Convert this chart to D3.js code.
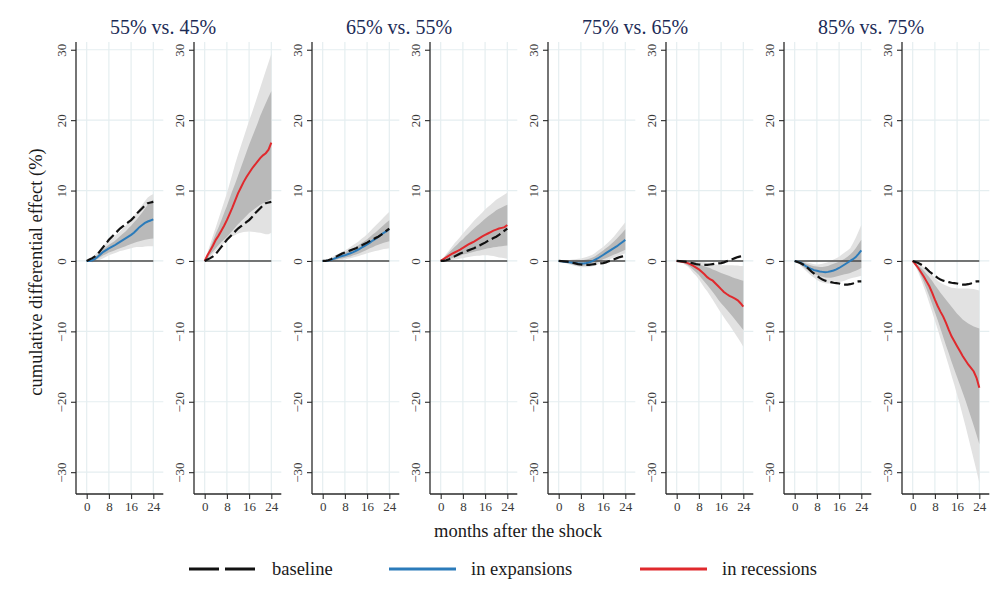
<!DOCTYPE html>
<html>
<head>
<meta charset="utf-8">
<script src="https://cdn.jsdelivr.net/npm/d3@7"></script>
<style>
  html, body { margin: 0; padding: 0; background: #fff; }
  svg { display: block; font-family: "Liberation Serif", "Times New Roman", serif; }
</style>
</head>
<body>
<svg id="chart" width="1005" height="604"></svg>
<script>
// Months after the shock
const months = d3.range(0, 25);
const xTicks = [0, 8, 16, 24];
const yTicks = [-30, -20, -10, 0, 10, 20, 30];
const groupTitles = ["55% vs. 45%", "65% vs. 55%", "75% vs. 65%", "85% vs. 75%"];

// ---- 55% vs. 45% ----
const base1 = [0,0.2,0.4,0.65,1.0,1.5,2.0,2.5,3.0,3.4,3.8,4.2,4.6,4.9,5.2,5.5,5.8,6.2,6.7,7.1,7.5,7.9,8.2,8.3,8.4];
const exp1 = [0,0,0.1,0.3,0.6,0.95,1.3,1.55,1.8,2.0,2.2,2.45,2.7,2.95,3.2,3.45,3.7,4.0,4.4,4.8,5.1,5.4,5.6,5.75,5.9];
const exp1InLo = [0,-0.05,-0.05,0.1,0.3,0.55,0.8,1.0,1.2,1.35,1.5,1.65,1.8,1.95,2.1,2.25,2.4,2.55,2.7,2.8,2.9,3.0,3.1,3.15,3.2];
const exp1InHi = [0,0.1,0.3,0.6,0.9,1.3,1.7,2.0,2.3,2.55,2.8,3.15,3.5,3.85,4.2,4.6,5.0,5.45,5.9,6.4,6.9,7.45,8.0,8.4,8.7];
const exp1OutLo = [0,-0.1,-0.2,-0.1,0.0,0.2,0.4,0.6,0.8,0.95,1.1,1.25,1.4,1.5,1.6,1.7,1.8,1.9,2.0,2.0,2.0,2.05,2.1,2.1,2.1];
const exp1OutHi = [0,0.25,0.5,0.9,1.3,1.75,2.2,2.55,2.9,3.2,3.5,3.85,4.2,4.6,5.0,5.45,5.9,6.4,6.9,7.45,8.0,8.5,9.0,9.3,9.5];
const rec1 = [0,0.8,1.5,2.2,3.0,3.6,4.3,5.0,5.8,6.7,7.6,8.6,9.6,10.4,11.2,11.9,12.5,13.1,13.6,14.1,14.6,15.0,15.3,15.8,16.8];
const rec1InLo = [0,0.4,0.9,1.35,1.8,2.25,2.7,3.05,3.4,3.85,4.3,4.75,5.2,5.6,6.0,6.4,6.8,7.1,7.4,7.7,8.0,8.2,8.4,8.6,8.8];
const rec1InHi = [0,1.0,1.9,2.9,3.9,4.8,5.8,6.8,7.8,8.9,10.0,11.0,12.1,13.2,14.3,15.4,16.5,17.5,18.5,19.5,20.6,21.5,22.4,23.3,24.1];
const rec1OutLo = [0,0.3,0.6,1.0,1.4,1.8,2.2,2.55,2.9,3.2,3.5,3.7,3.9,4.0,4.1,4.15,4.2,4.15,4.1,4.05,4.0,3.9,3.8,3.8,4.0];
const rec1OutHi = [0,1.2,2.4,3.6,4.8,6.0,7.2,8.4,9.6,11.0,12.4,13.8,15.1,16.3,17.5,18.7,19.9,21.0,22.2,23.4,24.6,25.8,27.0,28.2,29.4];

// ---- 65% vs. 55% ----
const base2 = [0,0.02,0.1,0.25,0.45,0.65,0.85,1.05,1.2,1.35,1.5,1.65,1.8,2.0,2.2,2.4,2.6,2.85,3.05,3.25,3.45,3.7,4.0,4.3,4.6];
const exp2 = [0,0,0.05,0.15,0.3,0.45,0.6,0.7,0.8,0.95,1.1,1.25,1.45,1.65,1.9,2.1,2.35,2.6,2.9,3.15,3.4,3.7,4.0,4.25,4.5];
const exp2InLo = [0,-0.05,-0.05,0.0,0.1,0.2,0.3,0.35,0.45,0.55,0.65,0.8,0.9,1.05,1.25,1.4,1.6,1.8,1.95,2.15,2.3,2.45,2.6,2.7,2.8];
const exp2InHi = [0,0.05,0.15,0.3,0.5,0.7,0.9,1.05,1.2,1.4,1.6,1.8,2.0,2.25,2.55,2.8,3.1,3.4,3.75,4.05,4.4,4.75,5.1,5.45,5.8];
const exp2OutLo = [0,-0.1,-0.1,-0.1,-0.05,0.0,0.1,0.15,0.2,0.3,0.4,0.5,0.6,0.7,0.85,0.95,1.1,1.2,1.3,1.4,1.5,1.6,1.7,1.75,1.8];
const exp2OutHi = [0,0.1,0.25,0.45,0.7,0.9,1.1,1.3,1.5,1.75,2.0,2.25,2.5,2.8,3.15,3.45,3.8,4.2,4.6,5.0,5.4,5.8,6.2,6.6,7.0];
const rec2 = [0,0.25,0.5,0.75,1.0,1.2,1.4,1.6,1.85,2.1,2.35,2.55,2.75,3.0,3.25,3.5,3.7,3.9,4.1,4.3,4.45,4.6,4.7,4.8,5.1];
const rec2InLo = [0,0.1,0.2,0.3,0.4,0.5,0.65,0.75,0.9,1.0,1.1,1.2,1.3,1.4,1.5,1.6,1.7,1.8,1.85,1.95,2.0,2.05,2.1,2.15,2.2];
const rec2InHi = [0,0.4,0.8,1.2,1.6,2.0,2.35,2.75,3.1,3.5,3.85,4.25,4.6,4.95,5.3,5.65,6.0,6.3,6.6,6.9,7.2,7.4,7.6,7.8,8.0];
const rec2OutLo = [0,0.0,0.0,0.05,0.1,0.2,0.25,0.35,0.4,0.5,0.55,0.65,0.7,0.75,0.75,0.8,0.8,0.8,0.75,0.7,0.6,0.5,0.45,0.4,0.3];
const rec2OutHi = [0,0.5,1.0,1.5,2.0,2.5,2.95,3.4,3.9,4.35,4.8,5.25,5.7,6.1,6.5,6.9,7.3,7.65,8.0,8.35,8.7,8.95,9.2,9.45,9.7];

// ---- 75% vs. 65% ----
const base3 = [0,-0.02,-0.05,-0.1,-0.15,-0.25,-0.35,-0.45,-0.5,-0.55,-0.55,-0.55,-0.5,-0.45,-0.4,-0.35,-0.3,-0.2,-0.05,0.1,0.25,0.4,0.55,0.65,0.75];
const exp3 = [0,-0.05,-0.1,-0.15,-0.2,-0.25,-0.3,-0.35,-0.35,-0.35,-0.3,-0.2,-0.05,0.15,0.35,0.6,0.85,1.1,1.35,1.6,1.85,2.1,2.4,2.7,3.0];
const exp3InLo = [0,-0.1,-0.2,-0.3,-0.4,-0.5,-0.6,-0.65,-0.7,-0.7,-0.65,-0.6,-0.5,-0.35,-0.2,0.0,0.25,0.4,0.55,0.75,0.9,1.05,1.25,1.4,1.6];
const exp3InHi = [0,0.0,0.0,0.0,0.05,0.05,0.05,0.08,0.1,0.15,0.2,0.3,0.45,0.65,0.9,1.2,1.5,1.8,2.1,2.45,2.8,3.2,3.6,4.05,4.5];
const exp3OutLo = [0,-0.15,-0.25,-0.4,-0.5,-0.6,-0.7,-0.8,-0.9,-0.9,-0.9,-0.85,-0.8,-0.65,-0.5,-0.3,-0.1,0.05,0.2,0.35,0.5,0.65,0.8,0.95,1.1];
const exp3OutHi = [0,0.05,0.1,0.1,0.15,0.2,0.25,0.3,0.35,0.45,0.55,0.7,0.85,1.1,1.4,1.7,2.0,2.35,2.7,3.1,3.5,4.0,4.5,5.0,5.5];
const rec3 = [0,-0.05,-0.1,-0.2,-0.3,-0.5,-0.7,-0.95,-1.2,-1.55,-1.9,-2.3,-2.6,-2.8,-3.2,-3.6,-4.0,-4.4,-4.7,-4.95,-5.15,-5.35,-5.6,-6.0,-6.5];
const rec3InLo = [0,-0.1,-0.2,-0.4,-0.6,-0.9,-1.25,-1.6,-2.0,-2.5,-2.95,-3.4,-3.9,-4.4,-4.95,-5.5,-6.0,-6.45,-6.9,-7.35,-7.8,-8.3,-8.8,-9.3,-9.8];
const rec3InHi = [0,0.0,-0.05,-0.05,-0.1,-0.2,-0.3,-0.4,-0.5,-0.6,-0.75,-0.9,-1.0,-1.2,-1.35,-1.55,-1.7,-1.85,-2.0,-2.15,-2.3,-2.45,-2.55,-2.7,-2.8];
const rec3OutLo = [0,-0.15,-0.3,-0.55,-0.8,-1.2,-1.7,-2.1,-2.6,-3.2,-3.8,-4.3,-4.9,-5.5,-6.15,-6.8,-7.4,-8.0,-8.55,-9.1,-9.7,-10.3,-10.9,-11.5,-12.2];
const rec3OutHi = [0,0.05,0.05,0.05,0.05,0.0,0.0,-0.05,-0.1,-0.15,-0.2,-0.3,-0.4,-0.45,-0.5,-0.55,-0.6,-0.6,-0.6,-0.6,-0.6,-0.65,-0.65,-0.7,-0.7];

// ---- 85% vs. 75% ----
const base4 = [0,-0.15,-0.3,-0.5,-0.75,-1.1,-1.5,-1.8,-2.1,-2.4,-2.65,-2.8,-2.9,-3.0,-3.1,-3.15,-3.2,-3.3,-3.35,-3.35,-3.3,-3.2,-3.0,-2.9,-2.9];
const exp4 = [0,-0.1,-0.2,-0.45,-0.75,-0.95,-1.15,-1.3,-1.4,-1.5,-1.55,-1.6,-1.55,-1.45,-1.35,-1.2,-1.0,-0.75,-0.5,-0.25,0.0,0.25,0.55,1.0,1.5];
const exp4InLo = [0,-0.2,-0.45,-0.8,-1.1,-1.4,-1.65,-1.85,-2.0,-2.15,-2.25,-2.35,-2.4,-2.4,-2.3,-2.2,-2.1,-2.0,-1.9,-1.8,-1.7,-1.55,-1.4,-1.2,-1.0];
const exp4InHi = [0,0.0,-0.05,-0.2,-0.35,-0.5,-0.65,-0.75,-0.8,-0.85,-0.85,-0.8,-0.7,-0.55,-0.4,-0.25,-0.1,0.1,0.3,0.6,0.9,1.3,1.8,2.4,3.0];
const exp4OutLo = [0,-0.25,-0.6,-1.0,-1.4,-1.75,-2.1,-2.4,-2.7,-2.9,-3.05,-3.15,-3.2,-3.2,-3.15,-3.1,-3.0,-2.9,-2.8,-2.65,-2.5,-2.4,-2.3,-2.2,-2.1];
const exp4OutHi = [0,0.05,0.0,-0.05,-0.15,-0.25,-0.35,-0.45,-0.5,-0.45,-0.4,-0.3,-0.2,0.0,0.2,0.4,0.6,0.9,1.2,1.5,1.8,2.5,3.3,4.2,5.1];
const rec4 = [0,-0.5,-1.0,-1.6,-2.2,-2.9,-3.6,-4.5,-5.5,-6.4,-7.2,-7.9,-8.8,-9.8,-10.7,-11.4,-12.1,-12.8,-13.5,-14.1,-14.7,-15.2,-15.7,-16.6,-18.0];
const rec4InLo = [0,-0.6,-1.3,-2.1,-3.0,-4.0,-5.0,-6.1,-7.3,-8.4,-9.6,-10.8,-12.0,-13.1,-14.3,-15.4,-16.5,-17.6,-18.7,-19.8,-21.0,-22.2,-23.4,-24.7,-26.0];
const rec4InHi = [0,-0.3,-0.6,-1.0,-1.4,-1.85,-2.3,-2.8,-3.4,-3.95,-4.5,-5.0,-5.5,-6.0,-6.5,-7.0,-7.5,-7.9,-8.3,-8.6,-8.9,-9.1,-9.3,-9.45,-9.6];
const rec4OutLo = [0,-0.75,-1.6,-2.6,-3.7,-4.8,-6.0,-7.2,-8.5,-9.7,-11.0,-12.3,-13.6,-14.9,-16.3,-17.6,-19.0,-20.4,-21.9,-23.4,-25.0,-26.6,-28.2,-29.8,-31.5];
const rec4OutHi = [0,-0.15,-0.3,-0.6,-0.9,-1.25,-1.6,-2.0,-2.4,-2.8,-3.1,-3.3,-3.5,-3.65,-3.8,-3.85,-3.9,-3.9,-3.9,-3.9,-3.9,-3.95,-4.0,-4.1,-4.2];

const COLORS = { exp: "#2b7bba", rec: "#e0292d", base: "#111111",
                 bandOut: "#e2e2e2", bandIn: "#b9b9b9", grid: "#e5eef0",
                 title: "#1c2b56", axis: "#2a2a2a", tick: "#3a3a3a" };

// Eight panels: expansions / recessions for each comparison
const panels = [
  { base: base1, line: exp1, inLo: exp1InLo, inHi: exp1InHi, outLo: exp1OutLo, outHi: exp1OutHi, color: COLORS.exp },
  { base: base1, line: rec1, inLo: rec1InLo, inHi: rec1InHi, outLo: rec1OutLo, outHi: rec1OutHi, color: COLORS.rec },
  { base: base2, line: exp2, inLo: exp2InLo, inHi: exp2InHi, outLo: exp2OutLo, outHi: exp2OutHi, color: COLORS.exp },
  { base: base2, line: rec2, inLo: rec2InLo, inHi: rec2InHi, outLo: rec2OutLo, outHi: rec2OutHi, color: COLORS.rec },
  { base: base3, line: exp3, inLo: exp3InLo, inHi: exp3InHi, outLo: exp3OutLo, outHi: exp3OutHi, color: COLORS.exp },
  { base: base3, line: rec3, inLo: rec3InLo, inHi: rec3InHi, outLo: rec3OutLo, outHi: rec3OutHi, color: COLORS.rec },
  { base: base4, line: exp4, inLo: exp4InLo, inHi: exp4InHi, outLo: exp4OutLo, outHi: exp4OutHi, color: COLORS.exp },
  { base: base4, line: rec4, inLo: rec4InLo, inHi: rec4InHi, outLo: rec4OutLo, outHi: rec4OutHi, color: COLORS.rec }
];

const svg = d3.select("#chart");

// layout
const firstAxisX = 76, panelStep = 118, panelW = 87.3;
const plotTop = 42, plotBottom = 494;

const y = d3.scaleLinear().domain([-33.1, 31.1]).range([plotBottom, plotTop]);

panels.forEach((p, i) => {
  const x0 = firstAxisX + i * panelStep;
  const x = d3.scaleLinear().domain([-3.85, 27.6]).range([x0, x0 + panelW]);
  const g = svg.append("g");

  // grid
  g.selectAll("line.hgrid").data(yTicks).join("line")
    .attr("x1", x0).attr("x2", x0 + panelW)
    .attr("y1", d => y(d)).attr("y2", d => y(d))
    .attr("stroke", COLORS.grid).attr("stroke-width", 1.2);
  g.selectAll("line.vgrid").data(xTicks).join("line")
    .attr("x1", d => x(d)).attr("x2", d => x(d))
    .attr("y1", plotTop).attr("y2", plotBottom)
    .attr("stroke", COLORS.grid).attr("stroke-width", 1.2);

  // confidence bands
  const area = (lo, hi) => d3.area()
    .x(d => x(d)).y0(d => y(lo[d])).y1(d => y(hi[d]))(months);
  g.append("path").attr("d", area(p.outLo, p.outHi)).attr("fill", COLORS.bandOut);
  g.append("path").attr("d", area(p.inLo, p.inHi)).attr("fill", COLORS.bandIn);

  // zero reference
  g.append("line")
    .attr("x1", x(0)).attr("x2", x(24)).attr("y1", y(0)).attr("y2", y(0))
    .attr("stroke", "#4a4a4a").attr("stroke-width", 1.5);

  const line = arr => d3.line().x(d => x(d)).y(d => y(arr[d]))(months);
  g.append("path").attr("d", line(p.line)).attr("fill", "none")
    .attr("stroke", p.color).attr("stroke-width", 2);
  g.append("path").attr("d", line(p.base)).attr("fill", "none")
    .attr("stroke", COLORS.base).attr("stroke-width", 2.2)
    .attr("stroke-dasharray", "10,4");

  // y axis
  const ya = g.append("g").attr("transform", `translate(${x0},0)`)
    .call(d3.axisLeft(y).tickValues(yTicks).tickSize(5).tickSizeOuter(0).tickFormat(d3.format("d")));
  ya.select(".domain").attr("d", `M0,${plotTop}V${plotBottom}`).attr("stroke", COLORS.axis).attr("stroke-width", 1.3);
  ya.selectAll(".tick line").attr("stroke", COLORS.axis).attr("stroke-width", 1.1);
  ya.selectAll(".tick text")
    .attr("x", null).attr("dy", null)
    .attr("transform", "translate(-15,0) rotate(-90)")
    .attr("text-anchor", "middle").attr("dominant-baseline", "central")
    .attr("fill", COLORS.tick).style("font-size", "13px")
    .style("font-family", "'Liberation Serif', serif");

  // x axis
  const xa = g.append("g").attr("transform", `translate(0,${plotBottom})`)
    .call(d3.axisBottom(x).tickValues(xTicks).tickSize(5).tickSizeOuter(0));
  xa.select(".domain").attr("d", `M${x0},0H${x0 + panelW}`).attr("stroke", COLORS.axis).attr("stroke-width", 1.3);
  xa.selectAll(".tick line").attr("stroke", COLORS.axis).attr("stroke-width", 1.1);
  xa.selectAll(".tick text").attr("y", 8).attr("dy", "0.71em")
    .attr("fill", COLORS.tick).style("font-size", "13px")
    .style("font-family", "'Liberation Serif', serif");
});

// group titles
groupTitles.forEach((t, i) => {
  svg.append("text")
    .attr("x", 163 + i * 2 * panelStep).attr("y", 34)
    .attr("text-anchor", "middle")
    .attr("fill", COLORS.title).style("font-size", "20px")
    .text(t);
});

// axis titles
svg.append("text")
  .attr("transform", "translate(36,272) rotate(-90)")
  .attr("text-anchor", "middle").attr("dominant-baseline", "central")
  .attr("fill", "#1a1a1a").style("font-size", "18.5px")
  .text("cumulative differential effect (%)");
svg.append("text")
  .attr("x", 518).attr("y", 537)
  .attr("text-anchor", "middle")
  .attr("fill", "#1a1a1a").style("font-size", "18.5px")
  .text("months after the shock");

// legend
const legendItems = [
  { label: "baseline", x1: 189, x2: 255, tx: 272, color: COLORS.base, dash: "30,6" },
  { label: "in expansions", x1: 389, x2: 456, tx: 471, color: COLORS.exp, dash: null },
  { label: "in recessions", x1: 640, x2: 707, tx: 722, color: COLORS.rec, dash: null }
];
const legY = 569;
const lg = svg.append("g");
legendItems.forEach(it => {
  lg.append("line").attr("x1", it.x1).attr("x2", it.x2).attr("y1", legY).attr("y2", legY)
    .attr("stroke", it.color).attr("stroke-width", 3)
    .attr("stroke-dasharray", it.dash);
  lg.append("text").attr("x", it.tx).attr("y", legY + 6)
    .attr("fill", "#1a1a1a").style("font-size", "18.5px")
    .text(it.label);
});
</script>
</body>
</html>
